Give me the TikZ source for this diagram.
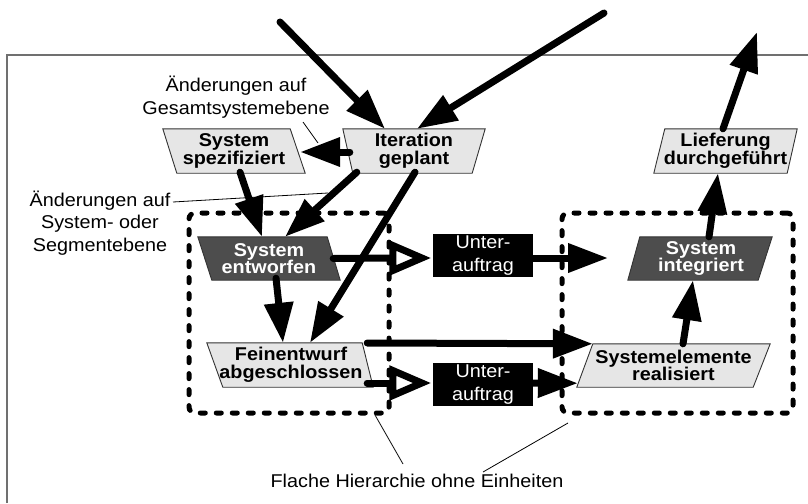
\documentclass[tikz,border=0pt]{standalone}
\usepackage{fontspec}
\setmainfont{Liberation Sans}[FakeStretch=1.07]
\usetikzlibrary{arrows.meta,calc,backgrounds}
\definecolor{boxlight}{HTML}{E6E6E6}
\definecolor{boxdark}{HTML}{4D4D4D}
\definecolor{boxline}{HTML}{333333}
\definecolor{frameline}{HTML}{707070}
\newcommand\boxtextfont{\fontsize{18.5}{17.5}\selectfont\bfseries}
\newcommand\notetextfont{\fontsize{18.5}{22.5}\selectfont}
% outline of a slanted state box, corner shifts along x: TL, TR, BL, BR
\newcommand\slantpoly[6]{\draw[#1] ($(#2.north west)+(#3,0)$) -- ($(#2.north east)+(#4,0)$) -- ($(#2.south east)+(#6,0)$) -- ($(#2.south west)+(#5,0)$) -- cycle;}
% hollow arrow head in front of a node's west side, at vertical offset #2
\newcommand\hollowhead[2]{\draw[opentip] ($(#1.west)+(-40,#2-12.5)$) -- ($(#1.west)+(-11,#2)$) -- ($(#1.west)+(-40,#2+12.5)$) -- cycle;}
\begin{document}
\begin{tikzpicture}[x=1pt,y=-1pt,
  state/.style={rectangle, inner sep=0pt, align=center, font=\boxtextfont},
  order/.style={rectangle, inner sep=0pt, align=center, font=\notetextfont, fill=black, text=white, minimum width=100pt, minimum height=43pt},
  note/.style={inner sep=0pt, align=center, font=\notetextfont},
  light/.style={fill=boxlight, draw=boxline, line width=0.9pt},
  dark/.style={fill=boxdark, draw=boxline, line width=0.9pt},
  flow/.style={line width=7pt, line cap=round, -{Triangle[length=40pt,width=28pt]}},
  shaft/.style={line width=7pt, line cap=round},
  opentip/.style={fill=white, draw=black, line width=7pt, line join=miter},
  grp/.style={draw, line width=5pt, dash pattern=on 5pt off 11pt, line cap=round, rounded corners=6pt, inner sep=0pt},
  lead/.style={line width=0.8pt}]
\useasboundingbox (0,0) rectangle (808,503);

% states
\node[state, minimum width=142pt, minimum height=44pt] (ss) at (234,151) {System\\spezifiziert};
\node[state, minimum width=142pt, minimum height=44pt] (itg) at (414,151) {Iteration\\geplant};
\node[state, minimum width=143pt, minimum height=44pt] (lief) at (725.5,151) {Lieferung\\durchgeführt};
\node[state, text=white, minimum width=142pt, minimum height=43pt] (sent) at (269,258.5) {System\\entworfen};
\node[state, minimum width=166pt, minimum height=44pt] (fein) at (291,365) {Feinentwurf\\abgeschlossen};
\node[state, text=white, minimum width=144pt, minimum height=43pt] (sint) at (701,258.5) {System\\integriert};
\node[state, minimum width=193pt, minimum height=43pt] (sel) at (673.5,365.5) {Systemelemente\\realisiert};
\node[order] (u1) at (483,255.5) {Unter-\\auftrag};
\node[order] (u2) at (483,384.5) {Unter-\\auftrag};

% annotations
\node[note] (lg) at (236,97) {Änderungen auf\\Gesamtsystemebene};
\node[note] (lseg) at (100,223) {Änderungen auf\\System- oder\\Segmentebene};
\node[note] (lflach) at (417,481) {Flache Hierarchie ohne Einheiten};

% groups without units
\node[grp, minimum width=200pt, minimum height=200pt] (gl) at (289,313) {};
\node[grp, minimum width=231pt, minimum height=200pt] (gr) at (677.5,313) {};

\begin{scope}[on background layer]
  \draw[frameline, line width=1.2pt] (7,503) -- (7,55) -- (808,55);
  \slantpoly{light}{ss}{0}{-15}{14}{0}
  \slantpoly{light}{itg}{0}{0}{10}{-13}
  \slantpoly{light}{lief}{11}{0}{0}{-10}
  \slantpoly{dark}{sent}{0}{-13}{14}{0}
  \slantpoly{light}{fein}{-1}{-12}{15}{-1}
  \slantpoly{dark}{sint}{11}{-1}{-1}{-15}
  \slantpoly{light}{sel}{16}{0}{0}{-17}
\end{scope}

% free ends
\coordinate (in1) at (280,22);
\coordinate (in2) at (604,13);
\coordinate (out1) at (608,258);
\coordinate (out2) at (757,32);

% flows
\draw[flow] (in1) -- ($(itg.north)+(-29,0)$);
\draw[flow] (in2) -- ($(itg.north)+(3,0)$);
\draw[flow] ($(itg.west)+(7,1)$) -- ($(ss.east)+(-5,1)$);
\draw[flow] ($(ss.south)+(6,-1)$) -- ($(sent.north)+(-7,0)$);
\draw[flow] ($(itg.south west)+(14,-1)$) -- ($(sent.north)+(16,0)$);
\draw[flow] ($(itg.south)+(1,-1)$) -- ($(fein.north)+(19,0)$);
\draw[flow] ($(sent.south)+(7,-2)$) -- ($(fein.north)+(-8,0)$);
\draw[shaft] ($(sent.east)+(-7,0)$) -- ($(u1.west)+(-40,2.5)$);
\hollowhead{u1}{2.5}
\draw[flow] ($(u1.east)+(0,2.5)$) -- (out1);
\draw[flow] ($(fein.east)+(-7,-22)$) -- ($(sel.north west)+(16,0)$);
\draw[shaft] ($(fein.east)+(-7,18)$) -- ($(u2.west)+(-40,-1.5)$);
\hollowhead{u2}{-1.5}
\draw[flow] ($(u2.east)+(0,-1.5)$) -- ($(sel.south west)+(1,-4)$);
\draw[flow] ($(sel.north)+(9.5,0)$) -- ($(sint.south)+(-8,0)$);
\draw[flow] ($(sint.north)+(8,0)$) -- ($(lief.south)+(-7.5,0)$);
\draw[flow] ($(lief.north)+(-2.5,0)$) -- (out2);

% leader lines
\coordinate (lgtail) at (303,122);
\coordinate (lghead) at (318,143);
\coordinate (lsegtail) at (173,202);
\coordinate (lseghead) at (328,193);
\coordinate (fltail1) at (403,464);
\coordinate (flhead1) at (375,415);
\coordinate (fltail2) at (483,472);
\coordinate (flhead2) at (568,423);
\draw[lead] (lgtail) -- (lghead);
\draw[lead] (lsegtail) -- (lseghead);
\draw[lead] (fltail1) -- (flhead1);
\draw[lead] (fltail2) -- (flhead2);
\end{tikzpicture}
\end{document}
